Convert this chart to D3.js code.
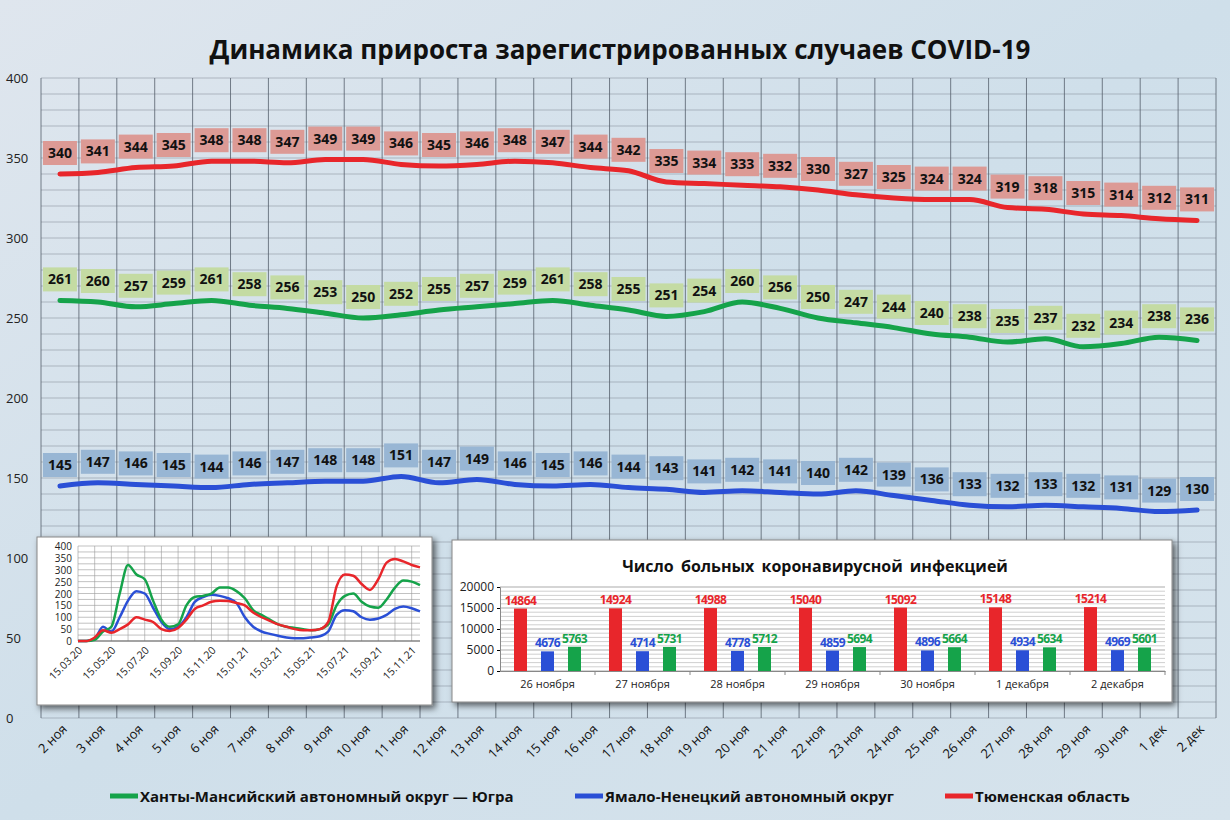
<!DOCTYPE html>
<meta charset="utf-8">
<style>
  body { margin: 0; }
  svg { display: block; font-family: "Open Sans", sans-serif; }
</style>
<svg id="chart" width="1230" height="820"></svg>
<script src="https://cdn.jsdelivr.net/npm/d3@7"></script>
<script>
  // main chart data
  var days = ["2 ноя","3 ноя","4 ноя","5 ноя","6 ноя","7 ноя","8 ноя","9 ноя","10 ноя","11 ноя","12 ноя","13 ноя","14 ноя","15 ноя","16 ноя","17 ноя","18 ноя","19 ноя","20 ноя","21 ноя","22 ноя","23 ноя","24 ноя","25 ноя","26 ноя","27 ноя","28 ноя","29 ноя","30 ноя","1 дек","2 дек"];
  var tyumen = [340,341,344,345,348,348,347,349,349,346,345,346,348,347,344,342,335,334,333,332,330,327,325,324,324,319,318,315,314,312,311];
  var hmao = [261,260,257,259,261,258,256,253,250,252,255,257,259,261,258,255,251,254,260,256,250,247,244,240,238,235,237,232,234,238,236];
  var yanao = [145,147,146,145,144,146,147,148,148,151,147,149,146,145,146,144,143,141,142,141,140,142,139,136,133,132,133,132,131,129,130];
  var yTicks = [0,50,100,150,200,250,300,350,400];

  // small history chart (half-monthly from 15.03.20)
  var histGreen = [0,0,5,40,60,200,320,280,260,170,90,60,70,150,185,190,200,225,225,210,180,130,110,90,70,60,55,50,45,50,70,150,190,200,165,145,140,175,225,255,250,235];
  var histBlue = [0,0,10,60,40,100,170,210,200,140,80,50,60,100,165,185,195,190,180,160,100,60,40,30,22,15,12,12,15,20,40,110,130,125,100,90,95,110,135,145,138,125];
  var histRed = [0,0,15,45,35,50,70,100,90,80,50,42,55,90,135,150,165,170,168,160,150,120,100,85,70,60,50,45,45,50,80,230,280,275,240,215,260,330,345,335,320,310];
  var histLabels = ["15.03.20","15.05.20","15.07.20","15.09.20","15.11.20","15.01.21","15.03.21","15.05.21","15.07.21","15.09.21","15.11.21"];
  var histTicks = [0,50,100,150,200,250,300,350,400];

  // bar chart data
  var barDays = ["26 ноября","27 ноября","28 ноября","29 ноября","30 ноября","1 декабря","2 декабря"];
  var barRed = [14864,14924,14988,15040,15092,15148,15214];
  var barBlue = [4676,4714,4778,4859,4896,4934,4969];
  var barGreen = [5763,5731,5712,5694,5664,5634,5601];
  var barTicks = [0,5000,10000,15000,20000];

  var RED = "#e8262b", GREEN = "#15a34a", BLUE = "#2a4fd6";

  var svg = d3.select("#chart");
  var defs = svg.append("defs");
  var bg = defs.append("linearGradient").attr("id", "bg").attr("x1", 0).attr("y1", 0).attr("x2", 1).attr("y2", 1);
  bg.append("stop").attr("offset", 0).attr("stop-color", "#dfe6ee");
  bg.append("stop").attr("offset", 0.5).attr("stop-color", "#cfdfea");
  bg.append("stop").attr("offset", 1).attr("stop-color", "#d6e3ec");
  var sh = defs.append("filter").attr("id", "shadow").attr("x", -0.1).attr("y", -0.1).attr("width", 1.2).attr("height", 1.3);
  sh.append("feDropShadow").attr("dx", 3).attr("dy", 3).attr("stdDeviation", 3).attr("flood-opacity", 0.6);

  svg.append("rect").attr("width", 1230).attr("height", 820).attr("fill", "url(#bg)");

  svg.append("text").attr("x", 620).attr("y", 59).attr("text-anchor", "middle")
    .attr("font-size", 26).attr("font-weight", "bold").attr("fill", "#111")
    .text("Динамика прироста зарегистрированных случаев COVID-19");

  // main plot
  var x = d3.scaleBand().domain(days).range([41, 1216]);
  var y = d3.scaleLinear().domain([0, 400]).range([718, 78]);

  var grid = svg.append("g");
  grid.selectAll(".h").data(d3.range(0, 401, 10)).join("line")
    .attr("x1", 41).attr("x2", 1216).attr("y1", d => y(d)).attr("y2", d => y(d))
    .attr("stroke", "#7d8590").attr("stroke-width", 0.5);
  grid.selectAll(".v").data(days.concat(["end"])).join("line")
    .attr("x1", (d, i) => 41 + i * x.step()).attr("x2", (d, i) => 41 + i * x.step())
    .attr("y1", 78).attr("y2", 718).attr("stroke", "#56606c").attr("stroke-width", 0.8);

  svg.append("g").selectAll("text").data(yTicks).join("text")
    .attr("x", 6).attr("y", d => y(d) + 5).attr("font-size", 13).attr("fill", "#222").text(d => d);

  svg.append("g").selectAll("text").data(days).join("text")
    .attr("transform", d => "translate(" + (x(d) + x.bandwidth() / 2 + 8) + ",730) rotate(-45)")
    .attr("text-anchor", "end").attr("font-size", 13).attr("fill", "#111").text(d => d);

  var series = [
    { vals: tyumen, color: RED, box: "#dc9a95" },
    { vals: hmao, color: GREEN, box: "#c4dba3" },
    { vals: yanao, color: BLUE, box: "#98b6d4" }
  ];
  var line = d3.line().x((d, i) => x(days[i]) + x.bandwidth() / 2).y(d => y(d)).curve(d3.curveMonotoneX);
  series.forEach(s => {
    svg.append("path").attr("d", line(s.vals)).attr("fill", "none")
      .attr("stroke", s.color).attr("stroke-width", 5).attr("stroke-linecap", "round");
    var lab = svg.append("g").selectAll("g").data(s.vals).join("g")
      .attr("transform", (d, i) => "translate(" + (x(days[i]) + x.bandwidth() / 2) + "," + (y(d) - 21) + ")");
    lab.append("rect").attr("x", -17).attr("y", -12).attr("width", 34).attr("height", 24).attr("fill", s.box);
    lab.append("text").attr("y", 5).attr("text-anchor", "middle").attr("font-size", 14)
      .attr("font-weight", "bold").attr("fill", "#111").text(d => d);
  });

  // inset line chart
  var ins = svg.append("g");
  ins.append("rect").attr("x", 37).attr("y", 537).attr("width", 395).attr("height", 168)
    .attr("fill", "#fff").attr("stroke", "#888").attr("filter", "url(#shadow)");
  var hx = d3.scaleLinear().domain([0, histGreen.length - 1]).range([78, 420]);
  var hy = d3.scaleLinear().domain([0, 400]).range([641, 546]);
  ins.selectAll(".hh").data(d3.range(0, 401, 25)).join("line")
    .attr("x1", 78).attr("x2", 420).attr("y1", d => hy(d)).attr("y2", d => hy(d))
    .attr("stroke", "#999").attr("stroke-width", 0.6);
  ins.selectAll(".hv").data(d3.range(0, 42, 2)).join("line")
    .attr("x1", d => hx(d)).attr("x2", d => hx(d)).attr("y1", 546).attr("y2", 641)
    .attr("stroke", "#999").attr("stroke-width", 0.6);
  ins.append("line").attr("x1", 78).attr("x2", 420).attr("y1", 641).attr("y2", 641).attr("stroke", "#666");
  ins.selectAll(".ht").data(histTicks).join("text")
    .attr("x", 72).attr("y", d => hy(d) + 4).attr("text-anchor", "end").attr("font-size", 10).attr("fill", "#222").text(d => d);
  ins.selectAll(".hl").data(histLabels).join("text")
    .attr("transform", (d, i) => "translate(" + (hx(i * 4) + 5) + ",651) rotate(-45)")
    .attr("text-anchor", "end").attr("font-size", 10.5).attr("fill", "#222").text(d => d);
  var hline = d3.line().x((d, i) => hx(i)).y(d => hy(d)).curve(d3.curveMonotoneX);
  [[histBlue, BLUE], [histGreen, GREEN], [histRed, RED]].forEach(p => {
    ins.append("path").attr("d", hline(p[0])).attr("fill", "none").attr("stroke", p[1]).attr("stroke-width", 2.5);
  });

  // inset bar chart
  var bc = svg.append("g");
  bc.append("rect").attr("x", 452).attr("y", 540).attr("width", 720).attr("height", 162)
    .attr("fill", "#fff").attr("stroke", "#888").attr("filter", "url(#shadow)");
  bc.append("text").attr("x", 815).attr("y", 572).attr("text-anchor", "middle")
    .attr("font-size", 16).attr("font-weight", "bold").attr("fill", "#111").attr("word-spacing", 3)
    .text("Число больных коронавирусной инфекцией");
  var bx = d3.scaleBand().domain(barDays).range([500, 1165]);
  var by = d3.scaleLinear().domain([0, 20000]).range([671, 587]);
  bc.selectAll(".bh").data(d3.range(0, 20001, 1000)).join("line")
    .attr("x1", 500).attr("x2", 1165).attr("y1", d => by(d)).attr("y2", d => by(d))
    .attr("stroke", d => d % 5000 ? "#bbb" : "#888").attr("stroke-width", 0.7);
  bc.append("g").attr("transform", "translate(500,0)")
    .call(d3.axisLeft(by).tickValues(barTicks).tickSize(3).tickFormat(d => d))
    .call(g => g.select(".domain").attr("stroke", "#888"))
    .call(g => g.selectAll("text").attr("font-size", 12).attr("fill", "#222").attr("font-family", "Open Sans"));
  bc.append("g").attr("transform", "translate(0,671)")
    .call(d3.axisBottom(bx).tickSize(0).tickPadding(9))
    .call(g => g.select(".domain").attr("stroke", "#888"))
    .call(g => g.selectAll("text").attr("font-size", 11).attr("fill", "#222").attr("font-family", "Open Sans"));
  bc.selectAll(".sep").data(barDays).join("line")
    .attr("x1", d => bx(d) + bx.bandwidth()).attr("x2", d => bx(d) + bx.bandwidth())
    .attr("y1", 671).attr("y2", 675).attr("stroke", "#888");
  var bars = [[barRed, RED, 14], [barBlue, BLUE, 41], [barGreen, GREEN, 68]];
  bars.forEach(b => {
    bc.selectAll(null).data(b[0]).join("rect")
      .attr("x", (d, i) => bx(barDays[i]) + b[2]).attr("width", 13)
      .attr("y", d => by(Math.min(d, 20000))).attr("height", d => 671 - by(d)).attr("fill", b[1]);
    bc.selectAll(null).data(b[0]).join("text")
      .attr("x", (d, i) => bx(barDays[i]) + b[2] + 6.5).attr("y", d => by(d) - 4)
      .attr("text-anchor", "middle").attr("font-size", 12).attr("letter-spacing", -0.6)
      .attr("font-weight", "bold").attr("fill", b[1]).text(d => d);
  });

  // legend
  var legend = [
    { name: "Ханты-Мансийский автономный округ — Югра", color: GREEN, x: 110 },
    { name: "Ямало-Ненецкий автономный округ", color: BLUE, x: 575 },
    { name: "Тюменская область", color: RED, x: 945 }
  ];
  var lg = svg.append("g").selectAll("g").data(legend).join("g")
    .attr("transform", d => "translate(" + d.x + ",796)");
  lg.append("line").attr("x1", 0).attr("x2", 28).attr("stroke", d => d.color).attr("stroke-width", 5);
  lg.append("text").attr("x", 30).attr("y", 6).attr("font-size", 15).attr("font-weight", "bold")
    .attr("fill", "#111").text(d => d.name);
</script>
